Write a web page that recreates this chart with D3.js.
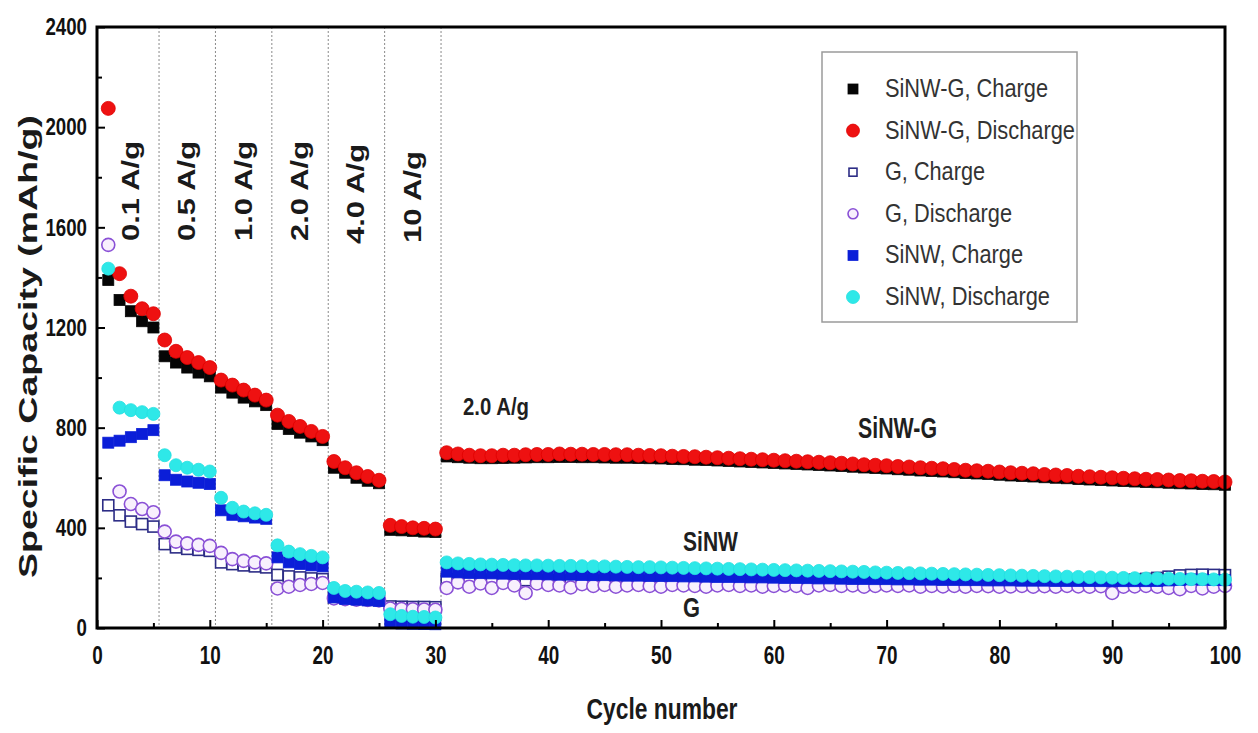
<!DOCTYPE html>
<html>
<head>
<meta charset="utf-8">
<script src="https://cdn.jsdelivr.net/npm/d3@7"></script>
<style>
  html, body { margin: 0; padding: 0; background: #fff; }
  svg { display: block; }
</style>
</head>
<body>
<div id="chart"></div>
<script>
// ---- data ----
const cycles = d3.range(1, 101);

const sinwgCharge = [
  1390, 1310, 1265, 1225, 1200,
  1085, 1060, 1040, 1020, 1005,
  960, 940, 920, 905, 890,
  815, 795, 780, 765, 750,
  640, 620, 600, 588, 578,
  392, 390, 388, 385, 383,
  685, 682, 680, 678, 678, 679, 680, 681, 682, 682,
  683, 683, 682, 682, 681, 680, 680, 679, 678, 677,
  675, 674, 672, 671, 669, 667, 665, 663, 661, 659,
  657, 655, 653, 651, 649, 647, 644, 641, 639, 637,
  634, 632, 629, 627, 625, 622, 619, 617, 615, 612,
  609, 607, 605, 602, 600, 598, 595, 593, 591, 589,
  587, 585, 583, 582, 580, 578, 577, 575, 574, 572
];
const sinwgDischarge = [
  2075, 1415, 1325, 1275, 1255,
  1150, 1105, 1080, 1060, 1040,
  990, 970, 950, 930, 910,
  850, 825, 805, 785, 765,
  665, 640, 620, 605, 590,
  410, 405, 400, 398, 395,
  700, 695, 690, 688, 688, 690, 690, 692, 693, 693,
  695, 694, 694, 693, 693, 692, 692, 690, 689, 688,
  686, 685, 684, 682, 680, 678, 676, 674, 672, 670,
  668, 666, 664, 662, 660, 658, 655, 652, 650, 648,
  645, 643, 640, 638, 636, 633, 630, 628, 626, 623,
  620, 618, 616, 613, 611, 609, 606, 604, 602, 600,
  598, 596, 594, 593, 591, 589, 588, 586, 585, 583
];
const gCharge = [
  490, 450, 425, 415, 405,
  335, 322, 316, 312, 308,
  262, 255, 250, 246, 242,
  212, 206, 202, 198, 195,
  122, 120, 118, 117, 116,
  86, 85, 84, 84, 83,
  195, 194, 193, 193, 192, 192, 191, 191, 190, 190,
  190, 190, 189, 189, 189, 189, 188, 188, 188, 188,
  188, 187, 187, 187, 187, 187, 186, 186, 186, 186,
  186, 186, 185, 185, 185, 185, 185, 185, 185, 184,
  184, 184, 184, 184, 184, 184, 184, 183, 183, 183,
  183, 183, 183, 183, 183, 183, 184, 185, 186, 188,
  190, 193, 196, 200, 205, 210, 212, 213, 212, 211
];
const gDischarge = [
  1530, 545, 495, 475, 462,
  385, 345, 338, 332, 328,
  300, 275, 268, 262, 258,
  158, 165, 172, 176, 180,
  118, 115, 113, 112, 110,
  78, 76, 75, 74, 73,
  160, 182, 165, 178, 160, 180, 170, 140, 178, 172,
  170, 162, 175, 168, 172, 165, 170, 172, 168, 165,
  172, 170, 168, 165, 170, 172, 168, 170, 165, 168,
  170, 168, 160, 170, 172, 168, 170, 165, 168, 170,
  168, 170, 165, 168, 166, 168, 165, 168, 167, 165,
  166, 168, 165, 167, 165, 168, 166, 165, 167, 140,
  165, 166, 168, 165, 160, 155, 168, 158, 165, 168
];
const sinwCharge = [
  740, 748, 762, 775, 790,
  610, 592, 585, 580, 575,
  470, 452, 446, 441, 436,
  282, 262, 256, 250, 246,
  122, 116, 113, 110, 108,
  22, 18, 17, 16, 15,
  225, 222, 220, 219, 218, 217, 216, 215, 215, 214,
  213, 213, 212, 211, 211, 210, 209, 209, 208, 208,
  207, 206, 206, 205, 204, 204, 203, 202, 202, 201,
  200, 200, 199, 198, 198, 197, 196, 196, 195, 195,
  194, 194, 193, 193, 192, 192, 191, 191, 190, 190,
  190, 189, 189, 189, 188, 188, 188, 188, 187, 187,
  187, 187, 187, 188, 190, 192, 194, 193, 192, 191
];
const sinwDischarge = [
  1435, 880, 870, 862, 855,
  690, 650, 640, 632, 625,
  520, 480, 465, 458, 452,
  330, 305, 295, 288, 282,
  160, 148, 145, 142, 140,
  55, 48, 45, 44, 42,
  262, 258, 256, 254, 253, 252, 251, 250, 250, 249,
  248, 248, 247, 246, 246, 245, 244, 243, 243, 242,
  241, 240, 239, 238, 237, 236, 235, 234, 233, 232,
  231, 230, 229, 228, 227, 226, 225, 224, 222, 221,
  220, 219, 218, 217, 216, 215, 214, 213, 212, 211,
  210, 209, 208, 207, 206, 205, 204, 203, 202, 201,
  200, 199, 198, 198, 197, 196, 195, 195, 194, 193
];

const seriesNames = ['SiNW-G, Charge', 'SiNW-G, Discharge', 'G, Charge', 'G, Discharge', 'SiNW, Charge', 'SiNW, Discharge'];
const seriesValues = [sinwgCharge, sinwgDischarge, gCharge, gDischarge, sinwCharge, sinwDischarge];

const rateLabels = ['0.1 A/g', '0.5 A/g', '1.0 A/g', '2.0 A/g', '4.0 A/g', '10 A/g'];
const rateBreaks = [5.5, 10.5, 15.5, 20.5, 25.5, 30.5];
const xTicks = d3.range(0, 101, 10);
const yTicks = d3.range(0, 2401, 400);

// marker styles, in legend order
const styles = [
  { shape: 'square', fill: '#050505', stroke: '#050505', size: 11, lsize: 10 },
  { shape: 'circle', fill: '#ee1111', stroke: '#e00000', size: 14, lsize: 13 },
  { shape: 'square', fill: '#ffffff', stroke: '#2d2d86', size: 11, lsize: 8, sw: 1.6 },
  { shape: 'circle', fill: '#f8f0fd', stroke: '#8a50d6', size: 13, lsize: 10, sw: 1.6 },
  { shape: 'square', fill: '#0b1ed8', stroke: '#0b1ed8', size: 11, lsize: 10 },
  { shape: 'circle', fill: '#2ee8e8', stroke: '#22e0e0', size: 13, lsize: 13 }
];

// ---- layout ----
const width = 1258, height = 733;
const x = d3.scaleLinear().domain([0, 100]).range([97, 1225]);
const y = d3.scaleLinear().domain([0, 2400]).range([628, 27]);

const svg = d3.select('#chart').append('svg')
  .attr('width', width).attr('height', height)
  .attr('viewBox', `0 0 ${width} ${height}`)
  .style('font-family', 'Liberation Sans, Arial, sans-serif');

// stretch / squash a text to a given length
const fit = (sel, len) => sel.attr('textLength', len).attr('lengthAdjust', 'spacingAndGlyphs');

// dotted separators between rate steps
svg.append('g')
  .selectAll('line')
  .data(rateBreaks)
  .join('line')
  .attr('x1', d => x(d)).attr('x2', d => x(d))
  .attr('y1', y(2400)).attr('y2', y(0))
  .attr('stroke', '#8a8a8a')
  .attr('stroke-width', 1)
  .attr('stroke-dasharray', '2,2');

// rate labels (rotated)
const rateCenters = [3, 8, 13, 18, 23, 28];
const rateG = svg.append('g');
rateLabels.forEach((t, i) => {
  const bx = x(rateCenters[i] + 0.7);
  const cy = y(1745 - (i > 3 ? (i - 3) * 12 : 0));
  rateG.append('text')
    .attr('transform', `translate(${bx},${cy}) rotate(-90)`)
    .attr('text-anchor', 'middle')
    .attr('font-size', 23)
    .attr('font-weight', 700)
    .attr('fill', '#1a1a1a')
    .text(t)
    .call(fit, t.length === 7 ? 100 : 92);
});

// markers
const markG = svg.append('g');
seriesValues.forEach((vals, si) => {
  const st = styles[si];
  const pts = cycles.map((c, i) => ({ c, v: vals[i] }));
  const g = markG.append('g');
  if (st.shape === 'square') {
    g.selectAll('rect').data(pts).join('rect')
      .attr('x', d => x(d.c) - st.size / 2)
      .attr('y', d => y(d.v) - st.size / 2)
      .attr('width', st.size).attr('height', st.size)
      .attr('fill', st.fill)
      .attr('stroke', st.stroke)
      .attr('stroke-width', st.sw || 0.8);
  } else {
    g.selectAll('circle').data(pts).join('circle')
      .attr('cx', d => x(d.c))
      .attr('cy', d => y(d.v))
      .attr('r', st.size / 2)
      .attr('fill', st.fill)
      .attr('stroke', st.stroke)
      .attr('stroke-width', st.sw || 0.8);
  }
});

// axes: inward ticks, majors + minors
const xAxis = svg.append('g')
  .attr('transform', `translate(0,${y(0)})`)
  .call(d3.axisBottom(x).tickValues(xTicks).tickSize(-8).tickPadding(18).tickFormat(d3.format('d')));
svg.append('g')
  .attr('transform', `translate(0,${y(0)})`)
  .call(d3.axisBottom(x).tickValues(d3.range(5, 100, 10)).tickSize(-5).tickFormat(''));
const yAxis = svg.append('g')
  .attr('transform', `translate(${x(0)},0)`)
  .call(d3.axisLeft(y).tickValues(yTicks).tickSize(-8).tickPadding(10).tickFormat(d3.format('d')));
svg.append('g')
  .attr('transform', `translate(${x(0)},0)`)
  .call(d3.axisLeft(y).tickValues(d3.range(200, 2400, 400)).tickSize(-5).tickFormat(''));

svg.selectAll('.domain').remove();
svg.selectAll('.tick line').attr('stroke', '#000').attr('stroke-width', 2);

xAxis.selectAll('text')
  .attr('font-size', 26).attr('font-weight', 700).attr('fill', '#111')
  .attr('font-family', 'Liberation Sans, Arial, sans-serif')
  .each(function (d) { d3.select(this).call(fit, String(d).length * 10.5); });
yAxis.selectAll('text')
  .attr('font-size', 24).attr('font-weight', 700).attr('fill', '#111')
  .attr('font-family', 'Liberation Sans, Arial, sans-serif')
  .each(function (d) { d3.select(this).call(fit, String(d).length * 10.4); });

// frame
svg.append('rect')
  .attr('x', x(0)).attr('y', y(2400))
  .attr('width', x(100) - x(0)).attr('height', y(0) - y(2400))
  .attr('fill', 'none').attr('stroke', '#000').attr('stroke-width', 3);

// axis titles
svg.append('text')
  .attr('x', 662).attr('y', 719)
  .attr('text-anchor', 'middle')
  .attr('font-size', 29).attr('font-weight', 700).attr('fill', '#1a1a1a')
  .text('Cycle number')
  .call(fit, 151);
svg.append('text')
  .attr('transform', `translate(37,${(115 + 578) / 2}) rotate(-90)`)
  .attr('text-anchor', 'middle')
  .attr('font-size', 26).attr('font-weight', 700).attr('fill', '#1a1a1a')
  .text('Specific Capacity (mAh/g)')
  .call(fit, 463);

// in-plot annotations
const notes = [
  { t: '2.0 A/g', x: 463, y: 415, fs: 24, len: 66 },
  { t: 'SiNW-G', x: 858, y: 438, fs: 30, len: 79 },
  { t: 'SiNW', x: 683, y: 551, fs: 28, len: 55 },
  { t: 'G', x: 683, y: 617, fs: 28, len: 17 }
];
svg.append('g').selectAll('text').data(notes).join('text')
  .attr('x', d => d.x).attr('y', d => d.y)
  .attr('font-size', d => d.fs).attr('font-weight', 700).attr('fill', '#1f1f1f')
  .text(d => d.t)
  .each(function (d) { d3.select(this).call(fit, d.len); });

// legend
const leg = svg.append('g');
leg.append('rect')
  .attr('x', 822).attr('y', 52).attr('width', 255).attr('height', 270)
  .attr('fill', '#fff').attr('stroke', '#9a9a9a').attr('stroke-width', 1.5);
const legLens = [163, 190, 100, 127, 138, 165];
seriesNames.forEach((name, i) => {
  const st = styles[i];
  const ly = 89 + i * 41.6;
  if (st.shape === 'square') {
    leg.append('rect')
      .attr('x', 853 - st.lsize / 2).attr('y', ly - st.lsize / 2)
      .attr('width', st.lsize).attr('height', st.lsize)
      .attr('fill', st.fill).attr('stroke', st.stroke).attr('stroke-width', st.sw || 0.8);
  } else {
    leg.append('circle')
      .attr('cx', 853).attr('cy', ly).attr('r', st.lsize / 2)
      .attr('fill', st.fill).attr('stroke', st.stroke).attr('stroke-width', st.sw || 0.8);
  }
  leg.append('text')
    .attr('x', 885).attr('y', ly + 8)
    .attr('font-size', 25).attr('fill', '#333')
    .text(name)
    .call(fit, legLens[i]);
});
</script>
</body>
</html>
